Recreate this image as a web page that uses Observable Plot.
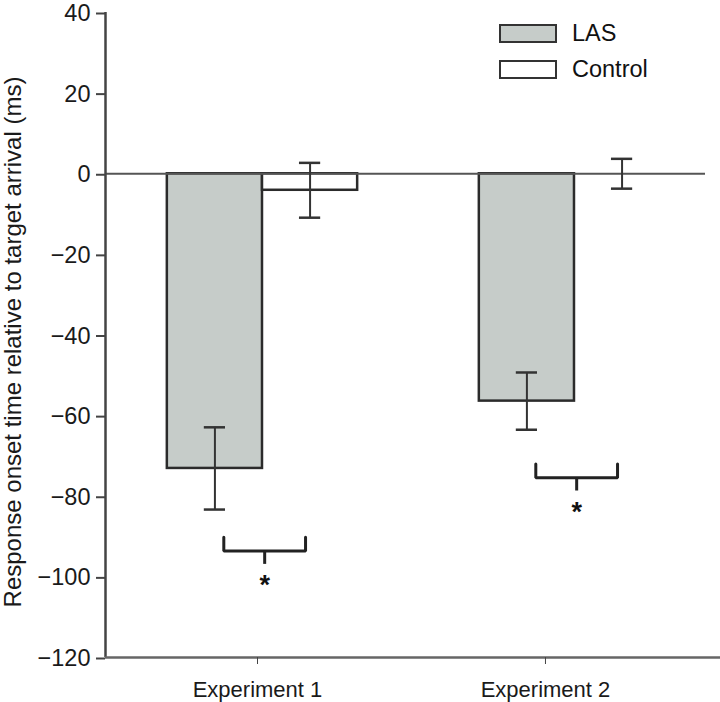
<!DOCTYPE html>
<html>
<head>
<meta charset="utf-8">
<script src="https://cdn.jsdelivr.net/npm/d3@7"></script>
<script src="https://cdn.jsdelivr.net/npm/@observablehq/plot@0.6"></script>
<style>
  html, body { margin: 0; padding: 0; background: #fff; }
  #wrap { position: relative; width: 720px; height: 702px; font-family: "Liberation Sans", Arial, sans-serif; }
  #legend { position: absolute; left: 499px; top: 15px; font-size: 23.5px; color: #111; }
  .item { display: flex; align-items: center; height: 36px; }
  .sw { width: 54px; height: 15px; border: 2px solid #333; margin-right: 15px; }
</style>
</head>
<body>
<div id="wrap"><div id="legend"></div></div>
<script>
// ---- data ----
const experiments = ["Experiment 1", "Experiment 2"];
const experimentPos = [1, 2];            // group centre (boundary between the two bars)
const experimentTickAt = [0.984, 1.907]; // where the category labels sit
const groups = ["LAS", "Control"];
const lasMean = [-73.1, -56.4];
const lasErr = [10.2, 7.1];
const controlMean = [-4.1, 0];
const controlErr = [6.8, 3.7];
const sigBracketY = [-93.6, -75.4];
const sigLabel = ["*", "*"];
const yTicks = [40, 20, 0, -20, -40, -60, -80, -100, -120];
const yLabel = "Response onset time relative to target arrival (ms)";

const groupColors = {LAS: "#c6ccc9", Control: "#ffffff"};

// ---- layout constants ----
const xDomain = [0.4968, 2.468];
const barW = 0.305;
const capHalf = 0.034;

const bars = [];
experiments.forEach((e, i) => {
  bars.push({exp: e, group: "LAS", x1: experimentPos[i] - barW, x2: experimentPos[i],
             mean: lasMean[i], err: lasErr[i]});
  bars.push({exp: e, group: "Control", x1: experimentPos[i], x2: experimentPos[i] + barW,
             mean: controlMean[i], err: controlErr[i]});
});
bars.forEach(d => { d.cx = (d.x1 + d.x2) / 2; d.lo = d.mean - d.err; d.hi = d.mean + d.err; });

const brackets = experiments.map((e, i) => ({
  exp: e, y: sigBracketY[i], label: sigLabel[i],
  xa: experimentPos[i] - 0.124, xb: experimentPos[i] + 0.138
}));
const bracketPath = brackets.flatMap(b => [
  {id: b.exp, x: b.xa, y: b.y + 3.4},
  {id: b.exp, x: b.xa, y: b.y},
  {id: b.exp, x: b.xb, y: b.y},
  {id: b.exp, x: b.xb, y: b.y + 3.4}
]);

const fmt = v => (v < 0 ? "\u2212" + Math.abs(v) : String(v));

const chart = Plot.plot({
  width: 720,
  height: 702,
  marginLeft: 105,
  marginRight: 0,
  marginTop: 12,
  marginBottom: 45,
  style: {fontFamily: "'Liberation Sans', Arial, sans-serif", fontSize: "22px", color: "#1a1a1a", background: "transparent"},
  x: {domain: xDomain, axis: null},
  y: {domain: [-120, 40], axis: null},
  marks: [
    Plot.rect(bars, {x1: "x1", x2: "x2", y1: 0, y2: "mean",
      fill: d => groupColors[d.group], stroke: "#2b2b2b", strokeWidth: 2.5}),
    Plot.ruleY([0], {stroke: "#555", strokeWidth: 2, insetRight: 15}),
    // error bars
    Plot.ruleX(bars, {x: "cx", y1: "lo", y2: "hi", stroke: "#333", strokeWidth: 2}),
    Plot.ruleY(bars, {y: "lo", x1: d => d.cx - capHalf, x2: d => d.cx + capHalf, stroke: "#333", strokeWidth: 2.5}),
    Plot.ruleY(bars, {y: "hi", x1: d => d.cx - capHalf, x2: d => d.cx + capHalf, stroke: "#333", strokeWidth: 2.5}),
    // significance brackets
    Plot.line(bracketPath, {x: "x", y: "y", z: "id", stroke: "#222", strokeWidth: 3, strokeLinejoin: "miter", curve: "linear"}),
    Plot.ruleX(brackets, {x: d => (d.xa + d.xb) / 2, y1: "y", y2: d => d.y - 3.3, stroke: "#222", strokeWidth: 3}),
    Plot.text(brackets, {x: d => (d.xa + d.xb) / 2, y: d => d.y - 8.6, text: "label", fontSize: 27, fontWeight: "bold", fill: "#111"}),
    // axes
    Plot.ruleX([xDomain[0]], {stroke: "#444", strokeWidth: 2.5}),
    Plot.ruleY([-120], {stroke: "#666", strokeWidth: 2.5}),
    Plot.axisY({ticks: yTicks, tickFormat: fmt, tickSize: 9, tickPadding: 6, stroke: "#444",
      strokeWidth: 2, fontSize: 23.5, fill: "#1a1a1a", label: null, dy: 1}),
    Plot.text([yLabel], {frameAnchor: "left", textAnchor: "middle", rotate: -90, dx: -92, dy: 7,
      text: d => d, fontSize: 24, fill: "#1a1a1a"}),
    Plot.axisX({ticks: experimentTickAt, tickFormat: (d, i) => experiments[i], tickSize: 7,
      tickPadding: 17, stroke: "#444", fontSize: 22, fill: "#1a1a1a", label: null})
  ]
});
document.getElementById("wrap").prepend(chart);

const legend = document.getElementById("legend");
groups.forEach(g => {
  const it = document.createElement("div");
  it.className = "item";
  const sw = document.createElement("div");
  sw.className = "sw";
  sw.style.background = groupColors[g];
  const t = document.createElement("span");
  t.textContent = g;
  it.append(sw, t);
  legend.append(it);
});
</script>
</body>
</html>
